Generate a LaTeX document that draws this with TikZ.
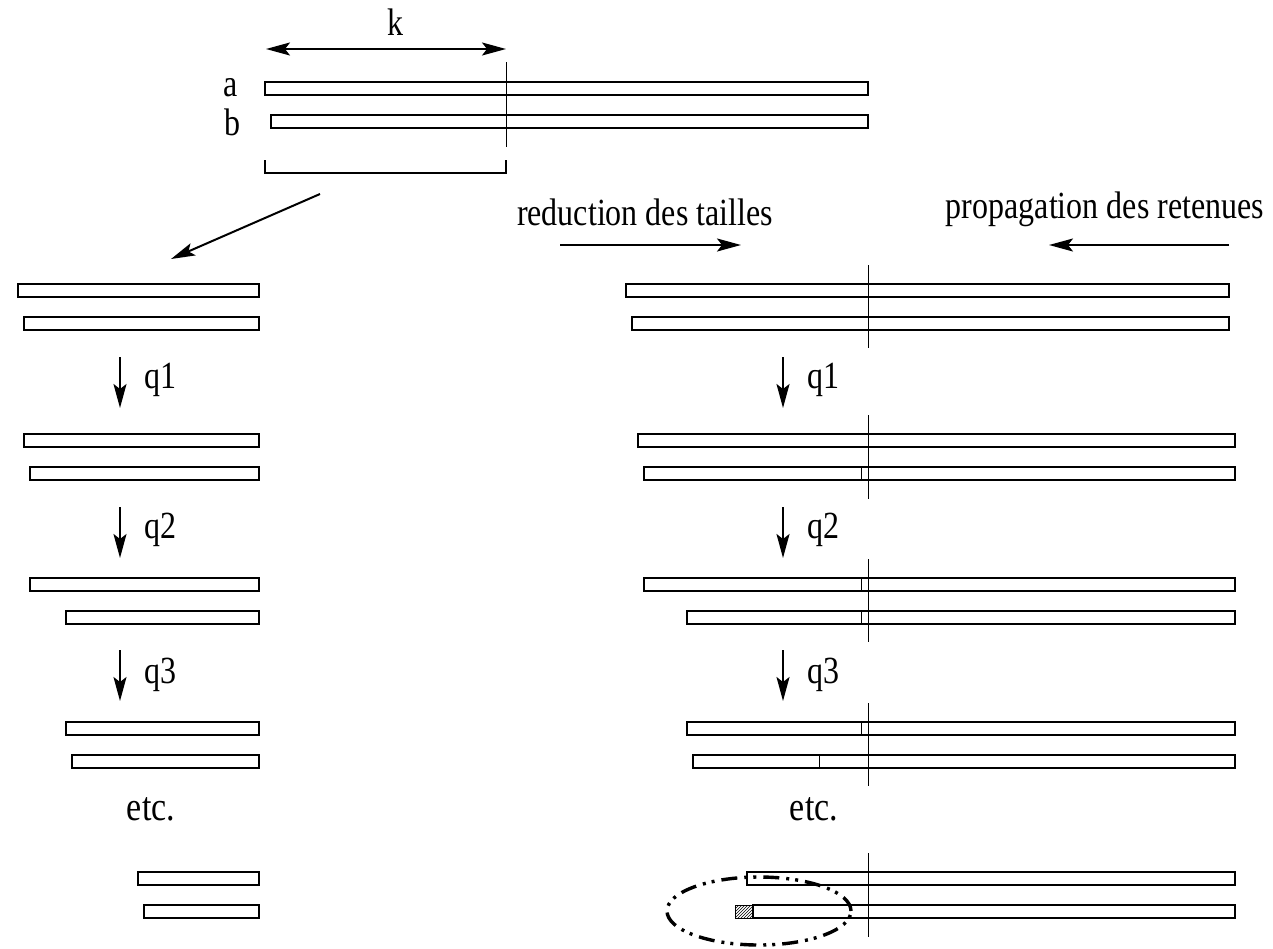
\documentclass[tikz,border=0pt]{standalone}
\usepackage{fontspec}
\setmainfont{Liberation Serif}
\usetikzlibrary{arrows.meta,patterns}
\tikzset{
  strip/.style={draw,line width=2.4pt},
  thickstrip/.style={draw,line width=2.9pt},
  cut/.style={line width=1pt},
  notch/.style={line width=0.9pt},
  bracket/.style={line width=1.8pt},
  tip/.tip={Stealth[length=24pt,width=13pt,inset=5pt]},
  flow/.style={line width=2pt,-tip},
  both/.style={line width=2pt,tip-tip},
  lbl/.style={inner sep=0pt,anchor=base,font=\fontsize{32}{36}\selectfont},
  lblw/.style={lbl,anchor=base west},
  etcl/.style={inner sep=0pt,anchor=base,font=\fontsize{34}{38}\selectfont},
  loop/.style={line width=3.4pt,dash pattern=on 16pt off 7pt on 3pt off 6pt on 3pt off 7pt},
}
% text set a little taller than wide
\newcommand\tall[1]{\scalebox{1}[1.2]{#1}}
% one strip: [style] left, right, top edge (strips are 13 units high)
\newcommand\drawstrip[4][strip]{\draw[#1] (#2,#4) rectangle (#3,#4+13);}
\newcommand\drawnotch[2]{\draw[notch] (#1,#2) -- (#1,#2+13);}
\begin{document}
\begin{tikzpicture}[x=1pt,y=-1pt]
\useasboundingbox (0,0) rectangle (1273,948);

% ---- operands a and b, with the split at k
\drawstrip{265}{868}{82}
\drawstrip{271}{868}{115}
\draw[cut] (506,62) -- (506,147);
\draw[bracket] (265,160) -- (265,173) -- (506,173) -- (506,160);
\coordinate (kL) at (266,49);
\coordinate (kR) at (506,49);
\draw[both] (kL) -- (kR);
\node[lbl] (k) at (395,35) {\tall{k}};
\node[lbl] (la) at (231,96) {\tall{a}};
\node[lbl] (lb) at (232,135) {\tall{b}};

\coordinate (split) at (320,194);
\coordinate (lefttop) at (171,259);
\draw[flow] (split) -- (lefttop);

% ---- direction labels
\node[lbl] (red) at (645,225) {\tall{reduction des tailles}};
\coordinate (redA) at (560,245);
\coordinate (redB) at (741,245);
\draw[flow] (redA) -- (redB);
\node[lbl] (prop) at (1105,218) {\tall{propagation des retenues}};
\coordinate (propA) at (1229,245);
\coordinate (propB) at (1049,245);
\draw[flow] (propA) -- (propB);

% ---- left column: low parts
\drawstrip{18}{259}{284}
\drawstrip{24}{259}{317}
\drawstrip{24}{259}{434}
\drawstrip{30}{259}{467}
\drawstrip{30}{259}{578}
\drawstrip{66}{259}{611}
\drawstrip{66}{259}{722}
\drawstrip{72}{259}{755}
\drawstrip{138}{259}{872}
\drawstrip{144}{259}{905}

\coordinate (lq1a) at (120,357); \coordinate (lq1b) at (120,408);
\coordinate (lq2a) at (120,507); \coordinate (lq2b) at (120,558);
\coordinate (lq3a) at (120,650); \coordinate (lq3b) at (120,701);
\draw[flow] (lq1a) -- (lq1b);
\draw[flow] (lq2a) -- (lq2b);
\draw[flow] (lq3a) -- (lq3b);
\node[lblw] (lq1) at (144,388) {\tall{q1}};
\node[lblw] (lq2) at (144,538) {\tall{q2}};
\node[lblw] (lq3) at (144,683) {\tall{q3}};
\node[etcl] (letc) at (151,820) {\tall{etc.}};

% ---- right column: full operands
\drawstrip{626}{1229}{284}
\drawstrip{632}{1229}{317}
\draw[cut] (868,265) -- (868,348);

\drawstrip{638}{1235}{434}
\drawstrip{644}{1235}{467}
\drawnotch{861}{467}
\draw[cut] (868,415) -- (868,499);

\drawstrip[thickstrip]{644}{1235}{578}
\drawstrip{687}{1235}{611}
\drawnotch{861}{578}
\drawnotch{861}{611}
\draw[cut] (868,559) -- (868,642);

\drawstrip{687}{1235}{722}
\drawstrip{693}{1235}{755}
\drawnotch{861}{722}
\drawnotch{819}{755}
\draw[cut] (868,703) -- (868,786);

\drawstrip{747}{1235}{872}
\drawstrip{753}{1235}{905}
\fill[pattern=north east lines] (735,905) rectangle (753,918);
\draw[line width=0.9pt] (735,905) rectangle (753,918);
\draw[cut] (868,853) -- (868,937);

\coordinate (rq1a) at (783,357); \coordinate (rq1b) at (783,408);
\coordinate (rq2a) at (783,507); \coordinate (rq2b) at (783,558);
\coordinate (rq3a) at (783,650); \coordinate (rq3b) at (783,701);
\draw[flow] (rq1a) -- (rq1b);
\draw[flow] (rq2a) -- (rq2b);
\draw[flow] (rq3a) -- (rq3b);
\node[lblw] (rq1) at (807,388) {\tall{q1}};
\node[lblw] (rq2) at (807,538) {\tall{q2}};
\node[lblw] (rq3) at (807,683) {\tall{q3}};
\node[etcl] (retc) at (814,820) {\tall{etc.}};

% ---- the leftover carry
\draw[loop] (759,911) ellipse [x radius=92pt, y radius=34pt];
\end{tikzpicture}
\end{document}
